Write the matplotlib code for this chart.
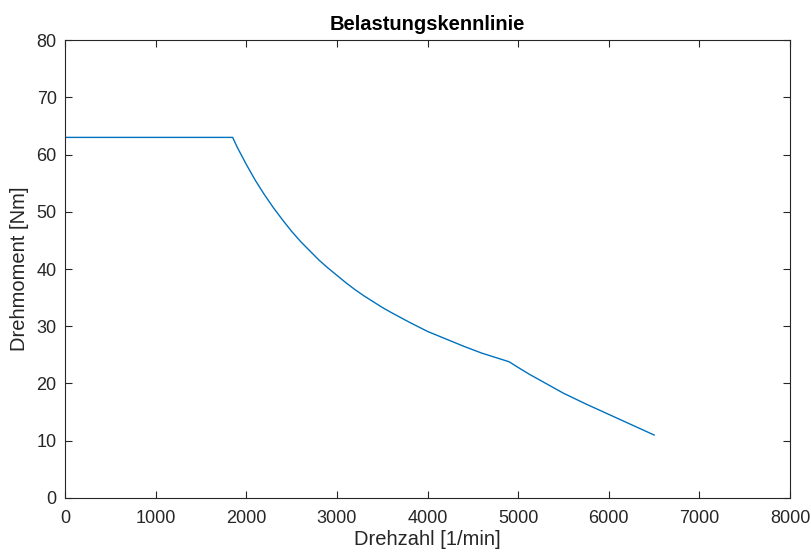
import matplotlib
matplotlib.use("Agg")
import matplotlib.pyplot as plt

# Drehzahl [1/min] and Drehmoment [Nm]
drehzahl = [0, 1850, 1900, 2000, 2100, 2200, 2300, 2400, 2500, 2600, 2700,
            2800, 2900, 3000, 3100, 3200, 3300, 3400, 3500, 3600, 3800, 4000,
            4200, 4400, 4600, 4800, 4900, 4950, 5000, 5125, 5250, 5375, 5500,
            5750, 6000, 6250, 6500]
drehmoment = [63.0, 63.0, 61.3, 58.3, 55.5, 53.0, 50.7, 48.6, 46.6, 44.8, 43.2,
              41.6, 40.2, 38.9, 37.6, 36.4, 35.3, 34.3, 33.3, 32.4, 30.7, 29.1,
              27.8, 26.5, 25.3, 24.3, 23.8, 23.3, 22.8, 21.6, 20.5, 19.4, 18.3,
              16.4, 14.6, 12.8, 11.0]

x_ticks = [0, 1000, 2000, 3000, 4000, 5000, 6000, 7000, 8000]
y_ticks = [0, 10, 20, 30, 40, 50, 60, 70, 80]

plt.rcParams["font.family"] = ["Liberation Sans", "DejaVu Sans"]
text_col = "#262626"

fig = plt.figure(figsize=(8.12, 5.57), dpi=100)
ax = fig.add_axes([0.080, 0.106, 0.893, 0.822])

ax.plot(drehzahl, drehmoment, color="#0072BD", linewidth=1.0)

ax.set_xlim(0, 8000)
ax.set_ylim(0, 80)
ax.set_xticks(x_ticks)
ax.set_yticks(y_ticks)
ax.tick_params(direction="in", length=5, width=0.8, colors=text_col,
               labelsize=13, top=True, right=True)
ax.tick_params(axis="x", pad=9)
ax.tick_params(axis="y", pad=6)
for s in ax.spines.values():
    s.set_color(text_col)
    s.set_linewidth(0.8)

ax.set_xlabel("Drehzahl [1/min]", fontsize=14.5, color=text_col, labelpad=2)
ax.set_ylabel("Drehmoment [Nm]", fontsize=14.5, color=text_col, labelpad=5)
ax.set_title("Belastungskennlinie", fontsize=14.5, fontweight="bold",
             color="black", pad=7)

fig.savefig("out.png", dpi=100)
plt.close(fig)
